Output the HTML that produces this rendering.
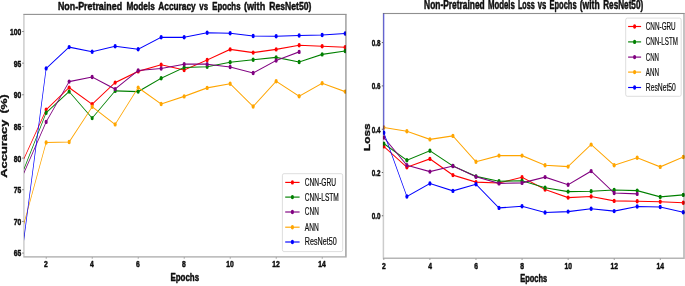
<!DOCTYPE html>
<html><head><meta charset="utf-8"><title>Non-Pretrained Models Accuracy and Loss vs Epochs</title>
<style>
html,body{margin:0;padding:0;background:#fff;}
body{width:685px;height:286px;overflow:hidden;font-family:"Liberation Sans",sans-serif;}
svg{display:block;}
text{font-family:"Liberation Sans",sans-serif;fill:#0c0c0c;}
.b{font-weight:bold;stroke:#0c0c0c;stroke-width:0.48px;stroke-linejoin:round;}
text{filter:grayscale(1);}
.lg{stroke:#0c0c0c;stroke-width:0.2px;}
</style></head><body>
<svg width="685" height="286" viewBox="0 0 685 286">
<rect x="0" y="0" width="685" height="286" fill="#ffffff"/>
<defs>
<filter id="soft" filterUnits="userSpaceOnUse" x="-5" y="-5" width="695" height="296"><feGaussianBlur stdDeviation="0.33"/></filter>
<clipPath id="cl"><rect x="24.00" y="14.40" width="321.90" height="242.50"/></clipPath>
<clipPath id="cr"><rect x="382.90" y="13.50" width="302.10" height="244.70"/></clipPath>
</defs>
<g filter="url(#soft)">
<g clip-path="url(#cl)"><g transform="scale(0.6,1)">
<polyline points="38.58,160.50 76.92,109.80 115.25,87.60 153.58,104.20 191.92,82.60 230.25,71.40 268.58,64.70 306.92,70.00 345.25,60.00 383.58,49.40 421.92,52.60 460.25,49.40 498.58,45.30 536.92,46.30 575.25,47.30" fill="none" stroke="#ff0000" stroke-width="1.15" stroke-linejoin="round"/>
<ellipse cx="76.92" cy="109.80" rx="2.58" ry="2.20" fill="#ff0000"/>
<ellipse cx="115.25" cy="87.60" rx="2.58" ry="2.20" fill="#ff0000"/>
<ellipse cx="153.58" cy="104.20" rx="2.58" ry="2.20" fill="#ff0000"/>
<ellipse cx="191.92" cy="82.60" rx="2.58" ry="2.20" fill="#ff0000"/>
<ellipse cx="230.25" cy="71.40" rx="2.58" ry="2.20" fill="#ff0000"/>
<ellipse cx="268.58" cy="64.70" rx="2.58" ry="2.20" fill="#ff0000"/>
<ellipse cx="306.92" cy="70.00" rx="2.58" ry="2.20" fill="#ff0000"/>
<ellipse cx="345.25" cy="60.00" rx="2.58" ry="2.20" fill="#ff0000"/>
<ellipse cx="383.58" cy="49.40" rx="2.58" ry="2.20" fill="#ff0000"/>
<ellipse cx="421.92" cy="52.60" rx="2.58" ry="2.20" fill="#ff0000"/>
<ellipse cx="460.25" cy="49.40" rx="2.58" ry="2.20" fill="#ff0000"/>
<ellipse cx="498.58" cy="45.30" rx="2.58" ry="2.20" fill="#ff0000"/>
<ellipse cx="536.92" cy="46.30" rx="2.58" ry="2.20" fill="#ff0000"/>
<ellipse cx="575.25" cy="47.30" rx="2.58" ry="2.20" fill="#ff0000"/>
</g></g>
<g clip-path="url(#cl)"><g transform="scale(0.6,1)">
<polyline points="38.58,171.20 76.92,112.80 115.25,91.60 153.58,118.10 191.92,90.90 230.25,91.60 268.58,78.30 306.92,67.50 345.25,66.80 383.58,62.20 421.92,59.70 460.25,57.40 498.58,62.00 536.92,54.40 575.25,51.00" fill="none" stroke="#008000" stroke-width="1.15" stroke-linejoin="round"/>
<ellipse cx="76.92" cy="112.80" rx="2.58" ry="2.20" fill="#008000"/>
<ellipse cx="115.25" cy="91.60" rx="2.58" ry="2.20" fill="#008000"/>
<ellipse cx="153.58" cy="118.10" rx="2.58" ry="2.20" fill="#008000"/>
<ellipse cx="191.92" cy="90.90" rx="2.58" ry="2.20" fill="#008000"/>
<ellipse cx="230.25" cy="91.60" rx="2.58" ry="2.20" fill="#008000"/>
<ellipse cx="268.58" cy="78.30" rx="2.58" ry="2.20" fill="#008000"/>
<ellipse cx="306.92" cy="67.50" rx="2.58" ry="2.20" fill="#008000"/>
<ellipse cx="345.25" cy="66.80" rx="2.58" ry="2.20" fill="#008000"/>
<ellipse cx="383.58" cy="62.20" rx="2.58" ry="2.20" fill="#008000"/>
<ellipse cx="421.92" cy="59.70" rx="2.58" ry="2.20" fill="#008000"/>
<ellipse cx="460.25" cy="57.40" rx="2.58" ry="2.20" fill="#008000"/>
<ellipse cx="498.58" cy="62.00" rx="2.58" ry="2.20" fill="#008000"/>
<ellipse cx="536.92" cy="54.40" rx="2.58" ry="2.20" fill="#008000"/>
<ellipse cx="575.25" cy="51.00" rx="2.58" ry="2.20" fill="#008000"/>
</g></g>
<g clip-path="url(#cl)"><g transform="scale(0.6,1)">
<polyline points="38.58,174.60 76.92,121.90 115.25,81.60 153.58,77.00 191.92,89.10 230.25,70.50 268.58,68.50 306.92,64.20 345.25,64.20 383.58,67.00 421.92,73.00 460.25,60.50 498.58,51.90" fill="none" stroke="#800080" stroke-width="1.15" stroke-linejoin="round"/>
<ellipse cx="76.92" cy="121.90" rx="2.58" ry="2.20" fill="#800080"/>
<ellipse cx="115.25" cy="81.60" rx="2.58" ry="2.20" fill="#800080"/>
<ellipse cx="153.58" cy="77.00" rx="2.58" ry="2.20" fill="#800080"/>
<ellipse cx="191.92" cy="89.10" rx="2.58" ry="2.20" fill="#800080"/>
<ellipse cx="230.25" cy="70.50" rx="2.58" ry="2.20" fill="#800080"/>
<ellipse cx="268.58" cy="68.50" rx="2.58" ry="2.20" fill="#800080"/>
<ellipse cx="306.92" cy="64.20" rx="2.58" ry="2.20" fill="#800080"/>
<ellipse cx="345.25" cy="64.20" rx="2.58" ry="2.20" fill="#800080"/>
<ellipse cx="383.58" cy="67.00" rx="2.58" ry="2.20" fill="#800080"/>
<ellipse cx="421.92" cy="73.00" rx="2.58" ry="2.20" fill="#800080"/>
<ellipse cx="460.25" cy="60.50" rx="2.58" ry="2.20" fill="#800080"/>
<ellipse cx="498.58" cy="51.90" rx="2.58" ry="2.20" fill="#800080"/>
</g></g>
<g clip-path="url(#cl)"><g transform="scale(0.6,1)">
<polyline points="38.58,226.50 76.92,142.50 115.25,142.00 153.58,106.80 191.92,124.40 230.25,87.60 268.58,104.00 306.92,96.40 345.25,87.90 383.58,83.80 421.92,106.50 460.25,81.30 498.58,96.20 536.92,83.30 575.25,91.60" fill="none" stroke="#ffa500" stroke-width="1.15" stroke-linejoin="round"/>
<ellipse cx="76.92" cy="142.50" rx="2.58" ry="2.20" fill="#ffa500"/>
<ellipse cx="115.25" cy="142.00" rx="2.58" ry="2.20" fill="#ffa500"/>
<ellipse cx="153.58" cy="106.80" rx="2.58" ry="2.20" fill="#ffa500"/>
<ellipse cx="191.92" cy="124.40" rx="2.58" ry="2.20" fill="#ffa500"/>
<ellipse cx="230.25" cy="87.60" rx="2.58" ry="2.20" fill="#ffa500"/>
<ellipse cx="268.58" cy="104.00" rx="2.58" ry="2.20" fill="#ffa500"/>
<ellipse cx="306.92" cy="96.40" rx="2.58" ry="2.20" fill="#ffa500"/>
<ellipse cx="345.25" cy="87.90" rx="2.58" ry="2.20" fill="#ffa500"/>
<ellipse cx="383.58" cy="83.80" rx="2.58" ry="2.20" fill="#ffa500"/>
<ellipse cx="421.92" cy="106.50" rx="2.58" ry="2.20" fill="#ffa500"/>
<ellipse cx="460.25" cy="81.30" rx="2.58" ry="2.20" fill="#ffa500"/>
<ellipse cx="498.58" cy="96.20" rx="2.58" ry="2.20" fill="#ffa500"/>
<ellipse cx="536.92" cy="83.30" rx="2.58" ry="2.20" fill="#ffa500"/>
<ellipse cx="575.25" cy="91.60" rx="2.58" ry="2.20" fill="#ffa500"/>
</g></g>
<g clip-path="url(#cl)"><g transform="scale(0.6,1)">
<polyline points="38.58,244.70 76.92,68.40 115.25,47.10 153.58,51.70 191.92,46.25 230.25,49.20 268.58,37.30 306.92,37.30 345.25,32.70 383.58,33.20 421.92,36.00 460.25,36.30 498.58,35.50 536.92,35.00 575.25,33.50" fill="none" stroke="#0000ff" stroke-width="1.15" stroke-linejoin="round"/>
<ellipse cx="76.92" cy="68.40" rx="2.58" ry="2.20" fill="#0000ff"/>
<ellipse cx="115.25" cy="47.10" rx="2.58" ry="2.20" fill="#0000ff"/>
<ellipse cx="153.58" cy="51.70" rx="2.58" ry="2.20" fill="#0000ff"/>
<ellipse cx="191.92" cy="46.25" rx="2.58" ry="2.20" fill="#0000ff"/>
<ellipse cx="230.25" cy="49.20" rx="2.58" ry="2.20" fill="#0000ff"/>
<ellipse cx="268.58" cy="37.30" rx="2.58" ry="2.20" fill="#0000ff"/>
<ellipse cx="306.92" cy="37.30" rx="2.58" ry="2.20" fill="#0000ff"/>
<ellipse cx="345.25" cy="32.70" rx="2.58" ry="2.20" fill="#0000ff"/>
<ellipse cx="383.58" cy="33.20" rx="2.58" ry="2.20" fill="#0000ff"/>
<ellipse cx="421.92" cy="36.00" rx="2.58" ry="2.20" fill="#0000ff"/>
<ellipse cx="460.25" cy="36.30" rx="2.58" ry="2.20" fill="#0000ff"/>
<ellipse cx="498.58" cy="35.50" rx="2.58" ry="2.20" fill="#0000ff"/>
<ellipse cx="536.92" cy="35.00" rx="2.58" ry="2.20" fill="#0000ff"/>
<ellipse cx="575.25" cy="33.50" rx="2.58" ry="2.20" fill="#0000ff"/>
</g></g>
<rect x="23.30" y="13.85" width="323.40" height="1.1" fill="#000" fill-opacity="0.44"/>
<rect x="23.30" y="256.30" width="323.40" height="1.2" fill="#000" fill-opacity="0.36"/>
<rect x="23.15" y="14.95" width="1.5" height="241.35" fill="#000" fill-opacity="0.2"/>
<rect x="345.05" y="14.95" width="1.70" height="241.35" fill="#000" fill-opacity="0.33"/>
<g clip-path="url(#cr)"><g transform="scale(0.6,1)">
<polyline points="639.77,146.40 678.15,167.30 716.53,158.90 754.92,175.10 793.30,182.10 831.68,183.00 870.07,177.30 908.45,189.50 946.83,197.60 985.22,196.50 1023.60,200.90 1061.98,201.30 1100.37,201.80 1138.75,202.70" fill="none" stroke="#ff0000" stroke-width="1.15" stroke-linejoin="round"/>
<ellipse cx="639.77" cy="146.40" rx="2.58" ry="2.20" fill="#ff0000"/>
<ellipse cx="678.15" cy="167.30" rx="2.58" ry="2.20" fill="#ff0000"/>
<ellipse cx="716.53" cy="158.90" rx="2.58" ry="2.20" fill="#ff0000"/>
<ellipse cx="754.92" cy="175.10" rx="2.58" ry="2.20" fill="#ff0000"/>
<ellipse cx="793.30" cy="182.10" rx="2.58" ry="2.20" fill="#ff0000"/>
<ellipse cx="831.68" cy="183.00" rx="2.58" ry="2.20" fill="#ff0000"/>
<ellipse cx="870.07" cy="177.30" rx="2.58" ry="2.20" fill="#ff0000"/>
<ellipse cx="908.45" cy="189.50" rx="2.58" ry="2.20" fill="#ff0000"/>
<ellipse cx="946.83" cy="197.60" rx="2.58" ry="2.20" fill="#ff0000"/>
<ellipse cx="985.22" cy="196.50" rx="2.58" ry="2.20" fill="#ff0000"/>
<ellipse cx="1023.60" cy="200.90" rx="2.58" ry="2.20" fill="#ff0000"/>
<ellipse cx="1061.98" cy="201.30" rx="2.58" ry="2.20" fill="#ff0000"/>
<ellipse cx="1100.37" cy="201.80" rx="2.58" ry="2.20" fill="#ff0000"/>
<ellipse cx="1138.75" cy="202.70" rx="2.58" ry="2.20" fill="#ff0000"/>
</g></g>
<g clip-path="url(#cr)"><g transform="scale(0.6,1)">
<polyline points="639.77,143.60 678.15,160.30 716.53,150.80 754.92,166.00 793.30,176.40 831.68,181.30 870.07,180.80 908.45,187.80 946.83,191.60 985.22,191.30 1023.60,190.00 1061.98,190.60 1100.37,196.90 1138.75,194.90" fill="none" stroke="#008000" stroke-width="1.15" stroke-linejoin="round"/>
<ellipse cx="639.77" cy="143.60" rx="2.58" ry="2.20" fill="#008000"/>
<ellipse cx="678.15" cy="160.30" rx="2.58" ry="2.20" fill="#008000"/>
<ellipse cx="716.53" cy="150.80" rx="2.58" ry="2.20" fill="#008000"/>
<ellipse cx="754.92" cy="166.00" rx="2.58" ry="2.20" fill="#008000"/>
<ellipse cx="793.30" cy="176.40" rx="2.58" ry="2.20" fill="#008000"/>
<ellipse cx="831.68" cy="181.30" rx="2.58" ry="2.20" fill="#008000"/>
<ellipse cx="870.07" cy="180.80" rx="2.58" ry="2.20" fill="#008000"/>
<ellipse cx="908.45" cy="187.80" rx="2.58" ry="2.20" fill="#008000"/>
<ellipse cx="946.83" cy="191.60" rx="2.58" ry="2.20" fill="#008000"/>
<ellipse cx="985.22" cy="191.30" rx="2.58" ry="2.20" fill="#008000"/>
<ellipse cx="1023.60" cy="190.00" rx="2.58" ry="2.20" fill="#008000"/>
<ellipse cx="1061.98" cy="190.60" rx="2.58" ry="2.20" fill="#008000"/>
<ellipse cx="1100.37" cy="196.90" rx="2.58" ry="2.20" fill="#008000"/>
<ellipse cx="1138.75" cy="194.90" rx="2.58" ry="2.20" fill="#008000"/>
</g></g>
<g clip-path="url(#cr)"><g transform="scale(0.6,1)">
<polyline points="639.77,137.50 678.15,165.20 716.53,171.60 754.92,166.00 793.30,176.70 831.68,183.40 870.07,182.90 908.45,177.10 946.83,184.70 985.22,171.10 1023.60,193.00 1061.98,193.90" fill="none" stroke="#800080" stroke-width="1.15" stroke-linejoin="round"/>
<ellipse cx="639.77" cy="137.50" rx="2.58" ry="2.20" fill="#800080"/>
<ellipse cx="678.15" cy="165.20" rx="2.58" ry="2.20" fill="#800080"/>
<ellipse cx="716.53" cy="171.60" rx="2.58" ry="2.20" fill="#800080"/>
<ellipse cx="754.92" cy="166.00" rx="2.58" ry="2.20" fill="#800080"/>
<ellipse cx="793.30" cy="176.70" rx="2.58" ry="2.20" fill="#800080"/>
<ellipse cx="831.68" cy="183.40" rx="2.58" ry="2.20" fill="#800080"/>
<ellipse cx="870.07" cy="182.90" rx="2.58" ry="2.20" fill="#800080"/>
<ellipse cx="908.45" cy="177.10" rx="2.58" ry="2.20" fill="#800080"/>
<ellipse cx="946.83" cy="184.70" rx="2.58" ry="2.20" fill="#800080"/>
<ellipse cx="985.22" cy="171.10" rx="2.58" ry="2.20" fill="#800080"/>
<ellipse cx="1023.60" cy="193.00" rx="2.58" ry="2.20" fill="#800080"/>
<ellipse cx="1061.98" cy="193.90" rx="2.58" ry="2.20" fill="#800080"/>
</g></g>
<g clip-path="url(#cr)"><g transform="scale(0.6,1)">
<polyline points="639.77,127.50 678.15,131.20 716.53,139.40 754.92,135.90 793.30,161.70 831.68,155.60 870.07,155.60 908.45,165.20 946.83,166.60 985.22,144.60 1023.60,165.20 1061.98,157.70 1100.37,166.90 1138.75,157.00" fill="none" stroke="#ffa500" stroke-width="1.15" stroke-linejoin="round"/>
<ellipse cx="639.77" cy="127.50" rx="2.58" ry="2.20" fill="#ffa500"/>
<ellipse cx="678.15" cy="131.20" rx="2.58" ry="2.20" fill="#ffa500"/>
<ellipse cx="716.53" cy="139.40" rx="2.58" ry="2.20" fill="#ffa500"/>
<ellipse cx="754.92" cy="135.90" rx="2.58" ry="2.20" fill="#ffa500"/>
<ellipse cx="793.30" cy="161.70" rx="2.58" ry="2.20" fill="#ffa500"/>
<ellipse cx="831.68" cy="155.60" rx="2.58" ry="2.20" fill="#ffa500"/>
<ellipse cx="870.07" cy="155.60" rx="2.58" ry="2.20" fill="#ffa500"/>
<ellipse cx="908.45" cy="165.20" rx="2.58" ry="2.20" fill="#ffa500"/>
<ellipse cx="946.83" cy="166.60" rx="2.58" ry="2.20" fill="#ffa500"/>
<ellipse cx="985.22" cy="144.60" rx="2.58" ry="2.20" fill="#ffa500"/>
<ellipse cx="1023.60" cy="165.20" rx="2.58" ry="2.20" fill="#ffa500"/>
<ellipse cx="1061.98" cy="157.70" rx="2.58" ry="2.20" fill="#ffa500"/>
<ellipse cx="1100.37" cy="166.90" rx="2.58" ry="2.20" fill="#ffa500"/>
<ellipse cx="1138.75" cy="157.00" rx="2.58" ry="2.20" fill="#ffa500"/>
</g></g>
<g clip-path="url(#cr)"><g transform="scale(0.6,1)">
<polyline points="639.02,-2000.00 639.77,132.80 678.15,196.50 716.53,183.50 754.92,190.90 793.30,184.20 831.68,207.90 870.07,206.30 908.45,212.50 946.83,211.60 985.22,208.80 1023.60,211.10 1061.98,206.50 1100.37,207.00 1138.75,212.30" fill="none" stroke="#0000ff" stroke-width="1.15" stroke-linejoin="round"/>
<ellipse cx="639.77" cy="132.80" rx="2.58" ry="2.20" fill="#0000ff"/>
<ellipse cx="678.15" cy="196.50" rx="2.58" ry="2.20" fill="#0000ff"/>
<ellipse cx="716.53" cy="183.50" rx="2.58" ry="2.20" fill="#0000ff"/>
<ellipse cx="754.92" cy="190.90" rx="2.58" ry="2.20" fill="#0000ff"/>
<ellipse cx="793.30" cy="184.20" rx="2.58" ry="2.20" fill="#0000ff"/>
<ellipse cx="831.68" cy="207.90" rx="2.58" ry="2.20" fill="#0000ff"/>
<ellipse cx="870.07" cy="206.30" rx="2.58" ry="2.20" fill="#0000ff"/>
<ellipse cx="908.45" cy="212.50" rx="2.58" ry="2.20" fill="#0000ff"/>
<ellipse cx="946.83" cy="211.60" rx="2.58" ry="2.20" fill="#0000ff"/>
<ellipse cx="985.22" cy="208.80" rx="2.58" ry="2.20" fill="#0000ff"/>
<ellipse cx="1023.60" cy="211.10" rx="2.58" ry="2.20" fill="#0000ff"/>
<ellipse cx="1061.98" cy="206.50" rx="2.58" ry="2.20" fill="#0000ff"/>
<ellipse cx="1100.37" cy="207.00" rx="2.58" ry="2.20" fill="#0000ff"/>
<ellipse cx="1138.75" cy="212.30" rx="2.58" ry="2.20" fill="#0000ff"/>
</g></g>
<rect x="382.80" y="12.95" width="302.00" height="1.1" fill="#000" fill-opacity="0.44"/>
<rect x="382.80" y="257.60" width="302.00" height="1.2" fill="#000" fill-opacity="0.36"/>
<rect x="382.65" y="14.05" width="1.5" height="243.55" fill="#000" fill-opacity="0.2"/>
<rect x="683.30" y="14.05" width="1.40" height="243.55" fill="#000" fill-opacity="0.33"/>
<rect x="22.30" y="252.60" width="1.3" height="0.9" fill="#555"/>
<text x="21.30" y="256.45" font-size="9.30" text-anchor="end" textLength="7.50" lengthAdjust="spacingAndGlyphs" class="b">65</text>
<rect x="22.30" y="220.95" width="1.3" height="0.9" fill="#555"/>
<text x="21.30" y="224.80" font-size="9.30" text-anchor="end" textLength="7.50" lengthAdjust="spacingAndGlyphs" class="b">70</text>
<rect x="22.30" y="189.30" width="1.3" height="0.9" fill="#555"/>
<text x="21.30" y="193.15" font-size="9.30" text-anchor="end" textLength="7.50" lengthAdjust="spacingAndGlyphs" class="b">75</text>
<rect x="22.30" y="157.65" width="1.3" height="0.9" fill="#555"/>
<text x="21.30" y="161.50" font-size="9.30" text-anchor="end" textLength="7.50" lengthAdjust="spacingAndGlyphs" class="b">80</text>
<rect x="22.30" y="126.00" width="1.3" height="0.9" fill="#555"/>
<text x="21.30" y="129.85" font-size="9.30" text-anchor="end" textLength="7.50" lengthAdjust="spacingAndGlyphs" class="b">85</text>
<rect x="22.30" y="94.35" width="1.3" height="0.9" fill="#555"/>
<text x="21.30" y="98.20" font-size="9.30" text-anchor="end" textLength="7.50" lengthAdjust="spacingAndGlyphs" class="b">90</text>
<rect x="22.30" y="62.70" width="1.3" height="0.9" fill="#555"/>
<text x="21.30" y="66.55" font-size="9.30" text-anchor="end" textLength="7.50" lengthAdjust="spacingAndGlyphs" class="b">95</text>
<rect x="22.30" y="31.05" width="1.3" height="0.9" fill="#555"/>
<text x="21.30" y="34.90" font-size="9.30" text-anchor="end" textLength="11.25" lengthAdjust="spacingAndGlyphs" class="b">100</text>
<rect x="45.80" y="257.20" width="0.7" height="1.5" fill="#777"/>
<text x="45.95" y="267.40" font-size="9.30" text-anchor="middle" textLength="3.75" lengthAdjust="spacingAndGlyphs" class="b">2</text>
<rect x="91.80" y="257.20" width="0.7" height="1.5" fill="#777"/>
<text x="91.95" y="267.40" font-size="9.30" text-anchor="middle" textLength="3.75" lengthAdjust="spacingAndGlyphs" class="b">4</text>
<rect x="137.80" y="257.20" width="0.7" height="1.5" fill="#777"/>
<text x="137.95" y="267.40" font-size="9.30" text-anchor="middle" textLength="3.75" lengthAdjust="spacingAndGlyphs" class="b">6</text>
<rect x="183.80" y="257.20" width="0.7" height="1.5" fill="#777"/>
<text x="183.95" y="267.40" font-size="9.30" text-anchor="middle" textLength="3.75" lengthAdjust="spacingAndGlyphs" class="b">8</text>
<rect x="229.80" y="257.20" width="0.7" height="1.5" fill="#777"/>
<text x="229.95" y="267.40" font-size="9.30" text-anchor="middle" textLength="7.50" lengthAdjust="spacingAndGlyphs" class="b">10</text>
<rect x="275.80" y="257.20" width="0.7" height="1.5" fill="#777"/>
<text x="275.95" y="267.40" font-size="9.30" text-anchor="middle" textLength="7.50" lengthAdjust="spacingAndGlyphs" class="b">12</text>
<rect x="321.80" y="257.20" width="0.7" height="1.5" fill="#777"/>
<text x="321.95" y="267.40" font-size="9.30" text-anchor="middle" textLength="7.50" lengthAdjust="spacingAndGlyphs" class="b">14</text>
<rect x="381.80" y="215.35" width="1.3" height="0.9" fill="#555"/>
<text x="380.40" y="219.20" font-size="9.30" text-anchor="end" textLength="8.70" lengthAdjust="spacingAndGlyphs" class="b">0.0</text>
<rect x="381.80" y="172.05" width="1.3" height="0.9" fill="#555"/>
<text x="380.40" y="175.90" font-size="9.30" text-anchor="end" textLength="8.70" lengthAdjust="spacingAndGlyphs" class="b">0.2</text>
<rect x="381.80" y="128.75" width="1.3" height="0.9" fill="#555"/>
<text x="380.40" y="132.60" font-size="9.30" text-anchor="end" textLength="8.70" lengthAdjust="spacingAndGlyphs" class="b">0.4</text>
<rect x="381.80" y="85.45" width="1.3" height="0.9" fill="#555"/>
<text x="380.40" y="89.30" font-size="9.30" text-anchor="end" textLength="8.70" lengthAdjust="spacingAndGlyphs" class="b">0.6</text>
<rect x="381.80" y="42.15" width="1.3" height="0.9" fill="#555"/>
<text x="380.40" y="46.00" font-size="9.30" text-anchor="end" textLength="8.70" lengthAdjust="spacingAndGlyphs" class="b">0.8</text>
<rect x="383.51" y="258.50" width="0.7" height="1.5" fill="#777"/>
<text x="383.96" y="268.90" font-size="9.30" text-anchor="middle" textLength="3.75" lengthAdjust="spacingAndGlyphs" class="b">2</text>
<rect x="429.57" y="258.50" width="0.7" height="1.5" fill="#777"/>
<text x="430.02" y="268.90" font-size="9.30" text-anchor="middle" textLength="3.75" lengthAdjust="spacingAndGlyphs" class="b">4</text>
<rect x="475.63" y="258.50" width="0.7" height="1.5" fill="#777"/>
<text x="476.08" y="268.90" font-size="9.30" text-anchor="middle" textLength="3.75" lengthAdjust="spacingAndGlyphs" class="b">6</text>
<rect x="521.69" y="258.50" width="0.7" height="1.5" fill="#777"/>
<text x="522.14" y="268.90" font-size="9.30" text-anchor="middle" textLength="3.75" lengthAdjust="spacingAndGlyphs" class="b">8</text>
<rect x="567.75" y="258.50" width="0.7" height="1.5" fill="#777"/>
<text x="568.20" y="268.90" font-size="9.30" text-anchor="middle" textLength="7.50" lengthAdjust="spacingAndGlyphs" class="b">10</text>
<rect x="613.81" y="258.50" width="0.7" height="1.5" fill="#777"/>
<text x="614.26" y="268.90" font-size="9.30" text-anchor="middle" textLength="7.50" lengthAdjust="spacingAndGlyphs" class="b">12</text>
<rect x="659.87" y="258.50" width="0.7" height="1.5" fill="#777"/>
<text x="660.32" y="268.90" font-size="9.30" text-anchor="middle" textLength="7.50" lengthAdjust="spacingAndGlyphs" class="b">14</text>
<text x="57.90" y="10.25" font-size="11.80" text-anchor="start" textLength="64.20" lengthAdjust="spacingAndGlyphs" class="b">Non-Pretrained</text>
<text x="126.40" y="10.25" font-size="11.80" text-anchor="start" textLength="28.40" lengthAdjust="spacingAndGlyphs" class="b">Models</text>
<text x="158.30" y="10.25" font-size="11.80" text-anchor="start" textLength="37.40" lengthAdjust="spacingAndGlyphs" class="b">Accuracy</text>
<text x="199.30" y="10.25" font-size="11.80" text-anchor="start" textLength="8.80" lengthAdjust="spacingAndGlyphs" class="b">vs</text>
<text x="212.20" y="10.25" font-size="11.80" text-anchor="start" textLength="28.30" lengthAdjust="spacingAndGlyphs" class="b">Epochs</text>
<text x="244.00" y="10.25" font-size="11.80" text-anchor="start" textLength="21.20" lengthAdjust="spacingAndGlyphs" class="b">(with</text>
<text x="269.30" y="10.25" font-size="11.80" text-anchor="start" textLength="42.00" lengthAdjust="spacingAndGlyphs" class="b">ResNet50)</text>
<text x="424.10" y="9.05" font-size="12.10" text-anchor="start" textLength="60.60" lengthAdjust="spacingAndGlyphs" class="b">Non-Pretrained</text>
<text x="487.90" y="9.05" font-size="12.10" text-anchor="start" textLength="26.90" lengthAdjust="spacingAndGlyphs" class="b">Models</text>
<text x="518.00" y="9.05" font-size="12.10" text-anchor="start" textLength="16.70" lengthAdjust="spacingAndGlyphs" class="b">Loss</text>
<text x="537.80" y="9.05" font-size="12.10" text-anchor="start" textLength="8.60" lengthAdjust="spacingAndGlyphs" class="b">vs</text>
<text x="549.50" y="9.05" font-size="12.10" text-anchor="start" textLength="27.10" lengthAdjust="spacingAndGlyphs" class="b">Epochs</text>
<text x="579.80" y="9.05" font-size="12.10" text-anchor="start" textLength="19.80" lengthAdjust="spacingAndGlyphs" class="b">(with</text>
<text x="603.20" y="9.05" font-size="12.10" text-anchor="start" textLength="40.00" lengthAdjust="spacingAndGlyphs" class="b">ResNet50)</text>
<text x="184.80" y="280.60" font-size="11.40" text-anchor="middle" textLength="28.70" lengthAdjust="spacingAndGlyphs" class="b">Epochs</text>
<text x="533.70" y="282.10" font-size="11.40" text-anchor="middle" textLength="27.00" lengthAdjust="spacingAndGlyphs" class="b">Epochs</text>
<g transform="translate(6.8,0) rotate(-90) scale(1,0.64)">
<text x="-177.7" y="0" font-size="14" textLength="58.0" lengthAdjust="spacingAndGlyphs" class="b">Accuracy</text>
<text x="-113.6" y="0" font-size="14" textLength="19.3" lengthAdjust="spacingAndGlyphs" class="b">(%)</text>
</g>
<g transform="translate(369.7,0) rotate(-90) scale(1,0.64)">
<text x="-151.0" y="0" font-size="14" textLength="27.6" lengthAdjust="spacingAndGlyphs" class="b">Loss</text>
</g>
<rect x="282.40" y="173.70" width="60.30" height="77.90" rx="1.5" ry="2" fill="#ffffff" fill-opacity="0.8" stroke="#d4d4d4" stroke-width="0.8"/>
<g transform="scale(0.6,1)">
<line x1="475.33" y1="182.40" x2="499.33" y2="182.40" stroke="#ff0000" stroke-width="1.15"/>
<ellipse cx="487.33" cy="182.40" rx="2.58" ry="2.20" fill="#ff0000"/>
</g>
<text x="304.80" y="185.85" font-size="10.00" text-anchor="start" textLength="31.30" lengthAdjust="spacingAndGlyphs" class="lg">CNN-GRU</text>
<g transform="scale(0.6,1)">
<line x1="475.33" y1="197.10" x2="499.33" y2="197.10" stroke="#008000" stroke-width="1.15"/>
<ellipse cx="487.33" cy="197.10" rx="2.58" ry="2.20" fill="#008000"/>
</g>
<text x="304.80" y="200.55" font-size="10.00" text-anchor="start" textLength="34.00" lengthAdjust="spacingAndGlyphs" class="lg">CNN-LSTM</text>
<g transform="scale(0.6,1)">
<line x1="475.33" y1="212.00" x2="499.33" y2="212.00" stroke="#800080" stroke-width="1.15"/>
<ellipse cx="487.33" cy="212.00" rx="2.58" ry="2.20" fill="#800080"/>
</g>
<text x="304.80" y="215.45" font-size="10.00" text-anchor="start" textLength="14.00" lengthAdjust="spacingAndGlyphs" class="lg">CNN</text>
<g transform="scale(0.6,1)">
<line x1="475.33" y1="227.20" x2="499.33" y2="227.20" stroke="#ffa500" stroke-width="1.15"/>
<ellipse cx="487.33" cy="227.20" rx="2.58" ry="2.20" fill="#ffa500"/>
</g>
<text x="304.80" y="230.65" font-size="10.00" text-anchor="start" textLength="14.00" lengthAdjust="spacingAndGlyphs" class="lg">ANN</text>
<g transform="scale(0.6,1)">
<line x1="475.33" y1="242.00" x2="499.33" y2="242.00" stroke="#0000ff" stroke-width="1.15"/>
<ellipse cx="487.33" cy="242.00" rx="2.58" ry="2.20" fill="#0000ff"/>
</g>
<text x="304.80" y="245.45" font-size="10.00" text-anchor="start" textLength="31.90" lengthAdjust="spacingAndGlyphs" class="lg">ResNet50</text>
<rect x="625.70" y="18.10" width="55.50" height="78.20" rx="1.5" ry="2" fill="#ffffff" fill-opacity="0.8" stroke="#d4d4d4" stroke-width="0.8"/>
<g transform="scale(0.6,1)">
<line x1="1046.83" y1="26.50" x2="1068.50" y2="26.50" stroke="#ff0000" stroke-width="1.15"/>
<ellipse cx="1057.67" cy="26.50" rx="2.58" ry="2.20" fill="#ff0000"/>
</g>
<text x="645.80" y="29.95" font-size="10.00" text-anchor="start" textLength="29.90" lengthAdjust="spacingAndGlyphs" class="lg">CNN-GRU</text>
<g transform="scale(0.6,1)">
<line x1="1046.83" y1="41.90" x2="1068.50" y2="41.90" stroke="#008000" stroke-width="1.15"/>
<ellipse cx="1057.67" cy="41.90" rx="2.58" ry="2.20" fill="#008000"/>
</g>
<text x="645.80" y="45.35" font-size="10.00" text-anchor="start" textLength="32.10" lengthAdjust="spacingAndGlyphs" class="lg">CNN-LSTM</text>
<g transform="scale(0.6,1)">
<line x1="1046.83" y1="57.10" x2="1068.50" y2="57.10" stroke="#800080" stroke-width="1.15"/>
<ellipse cx="1057.67" cy="57.10" rx="2.58" ry="2.20" fill="#800080"/>
</g>
<text x="645.80" y="60.55" font-size="10.00" text-anchor="start" textLength="13.20" lengthAdjust="spacingAndGlyphs" class="lg">CNN</text>
<g transform="scale(0.6,1)">
<line x1="1046.83" y1="72.10" x2="1068.50" y2="72.10" stroke="#ffa500" stroke-width="1.15"/>
<ellipse cx="1057.67" cy="72.10" rx="2.58" ry="2.20" fill="#ffa500"/>
</g>
<text x="645.80" y="75.55" font-size="10.00" text-anchor="start" textLength="13.20" lengthAdjust="spacingAndGlyphs" class="lg">ANN</text>
<g transform="scale(0.6,1)">
<line x1="1046.83" y1="87.50" x2="1068.50" y2="87.50" stroke="#0000ff" stroke-width="1.15"/>
<ellipse cx="1057.67" cy="87.50" rx="2.58" ry="2.20" fill="#0000ff"/>
</g>
<text x="645.80" y="90.95" font-size="10.00" text-anchor="start" textLength="30.00" lengthAdjust="spacingAndGlyphs" class="lg">ResNet50</text>
</g>
</svg>
</body></html>
